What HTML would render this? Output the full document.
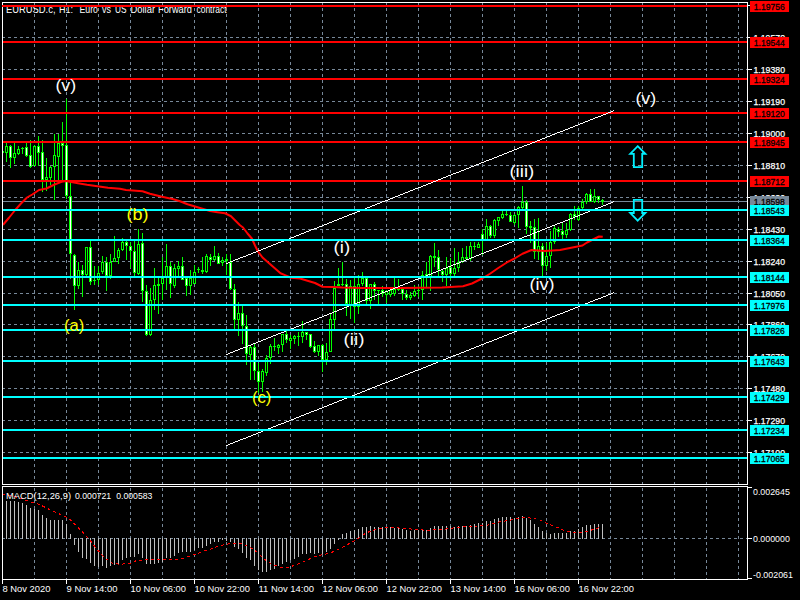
<!DOCTYPE html>
<html><head><meta charset="utf-8"><title>EURUSD.c H1</title>
<style>html,body{margin:0;padding:0;background:#000;overflow:hidden}svg text{font-family:"Liberation Sans",sans-serif}</style></head>
<body>
<svg width="800" height="600" viewBox="0 0 800 600" style="display:block">
<rect x="0" y="0" width="800" height="600" fill="#000"/>
<g stroke="#778899" stroke-width="1" stroke-dasharray="3 3" shape-rendering="crispEdges" fill="none">
<line x1="34.5" y1="2" x2="34.5" y2="484"/>
<line x1="34.5" y1="488" x2="34.5" y2="579"/>
<line x1="66.5" y1="2" x2="66.5" y2="484"/>
<line x1="66.5" y1="488" x2="66.5" y2="579"/>
<line x1="98.5" y1="2" x2="98.5" y2="484"/>
<line x1="98.5" y1="488" x2="98.5" y2="579"/>
<line x1="130.5" y1="2" x2="130.5" y2="484"/>
<line x1="130.5" y1="488" x2="130.5" y2="579"/>
<line x1="162.5" y1="2" x2="162.5" y2="484"/>
<line x1="162.5" y1="488" x2="162.5" y2="579"/>
<line x1="194.5" y1="2" x2="194.5" y2="484"/>
<line x1="194.5" y1="488" x2="194.5" y2="579"/>
<line x1="226.5" y1="2" x2="226.5" y2="484"/>
<line x1="226.5" y1="488" x2="226.5" y2="579"/>
<line x1="258.5" y1="2" x2="258.5" y2="484"/>
<line x1="258.5" y1="488" x2="258.5" y2="579"/>
<line x1="290.5" y1="2" x2="290.5" y2="484"/>
<line x1="290.5" y1="488" x2="290.5" y2="579"/>
<line x1="322.5" y1="2" x2="322.5" y2="484"/>
<line x1="322.5" y1="488" x2="322.5" y2="579"/>
<line x1="354.5" y1="2" x2="354.5" y2="484"/>
<line x1="354.5" y1="488" x2="354.5" y2="579"/>
<line x1="386.5" y1="2" x2="386.5" y2="484"/>
<line x1="386.5" y1="488" x2="386.5" y2="579"/>
<line x1="418.5" y1="2" x2="418.5" y2="484"/>
<line x1="418.5" y1="488" x2="418.5" y2="579"/>
<line x1="450.5" y1="2" x2="450.5" y2="484"/>
<line x1="450.5" y1="488" x2="450.5" y2="579"/>
<line x1="482.5" y1="2" x2="482.5" y2="484"/>
<line x1="482.5" y1="488" x2="482.5" y2="579"/>
<line x1="514.5" y1="2" x2="514.5" y2="484"/>
<line x1="514.5" y1="488" x2="514.5" y2="579"/>
<line x1="546.5" y1="2" x2="546.5" y2="484"/>
<line x1="546.5" y1="488" x2="546.5" y2="579"/>
<line x1="578.5" y1="2" x2="578.5" y2="484"/>
<line x1="578.5" y1="488" x2="578.5" y2="579"/>
<line x1="610.5" y1="2" x2="610.5" y2="484"/>
<line x1="610.5" y1="488" x2="610.5" y2="579"/>
<line x1="642.5" y1="2" x2="642.5" y2="484"/>
<line x1="642.5" y1="488" x2="642.5" y2="579"/>
<line x1="674.5" y1="2" x2="674.5" y2="484"/>
<line x1="674.5" y1="488" x2="674.5" y2="579"/>
<line x1="706.5" y1="2" x2="706.5" y2="484"/>
<line x1="706.5" y1="488" x2="706.5" y2="579"/>
<line x1="738.5" y1="2" x2="738.5" y2="484"/>
<line x1="738.5" y1="488" x2="738.5" y2="579"/>
<line x1="2" y1="37.5" x2="747" y2="37.5"/>
<line x1="2" y1="69.5" x2="747" y2="69.5"/>
<line x1="2" y1="101.5" x2="747" y2="101.5"/>
<line x1="2" y1="133.5" x2="747" y2="133.5"/>
<line x1="2" y1="165.5" x2="747" y2="165.5"/>
<line x1="2" y1="197.5" x2="747" y2="197.5"/>
<line x1="2" y1="229.5" x2="747" y2="229.5"/>
<line x1="2" y1="261.5" x2="747" y2="261.5"/>
<line x1="2" y1="293.5" x2="747" y2="293.5"/>
<line x1="2" y1="324.5" x2="747" y2="324.5"/>
<line x1="2" y1="356.5" x2="747" y2="356.5"/>
<line x1="2" y1="388.5" x2="747" y2="388.5"/>
<line x1="2" y1="420.5" x2="747" y2="420.5"/>
<line x1="2" y1="452.5" x2="747" y2="452.5"/>
<line x1="2" y1="538.5" x2="747" y2="538.5"/>
</g>
<rect x="2" y="201" width="746" height="1" fill="#778899" shape-rendering="crispEdges"/>
<g shape-rendering="crispEdges">
<rect x="6" y="143" width="1" height="19" fill="#00ff00"/>
<rect x="5" y="146" width="3" height="7" fill="#00ff00"/>
<rect x="6" y="147" width="1" height="5" fill="#000"/>
<rect x="10" y="145" width="1" height="23" fill="#00ff00"/>
<rect x="9" y="146" width="3" height="12" fill="#00ff00"/>
<rect x="10" y="147" width="1" height="10" fill="#fff"/>
<rect x="14" y="142" width="1" height="22" fill="#00ff00"/>
<rect x="13" y="153" width="3" height="5" fill="#00ff00"/>
<rect x="14" y="154" width="1" height="3" fill="#000"/>
<rect x="18" y="146" width="1" height="9" fill="#00ff00"/>
<rect x="17" y="149" width="3" height="5" fill="#00ff00"/>
<rect x="18" y="150" width="1" height="3" fill="#000"/>
<rect x="22" y="147" width="1" height="7" fill="#00ff00"/>
<rect x="21" y="148" width="3" height="1" fill="#00ff00"/>
<rect x="26" y="143" width="1" height="14" fill="#00ff00"/>
<rect x="25" y="147" width="3" height="9" fill="#00ff00"/>
<rect x="26" y="148" width="1" height="7" fill="#fff"/>
<rect x="30" y="140" width="1" height="28" fill="#00ff00"/>
<rect x="29" y="155" width="3" height="12" fill="#00ff00"/>
<rect x="30" y="156" width="1" height="10" fill="#fff"/>
<rect x="34" y="145" width="1" height="21" fill="#00ff00"/>
<rect x="33" y="146" width="3" height="20" fill="#00ff00"/>
<rect x="34" y="147" width="1" height="18" fill="#000"/>
<rect x="38" y="136" width="1" height="30" fill="#00ff00"/>
<rect x="37" y="146" width="3" height="7" fill="#00ff00"/>
<rect x="38" y="147" width="1" height="5" fill="#fff"/>
<rect x="42" y="140" width="1" height="52" fill="#00ff00"/>
<rect x="41" y="152" width="3" height="28" fill="#00ff00"/>
<rect x="42" y="153" width="1" height="26" fill="#fff"/>
<rect x="46" y="158" width="1" height="33" fill="#00ff00"/>
<rect x="45" y="177" width="3" height="3" fill="#00ff00"/>
<rect x="46" y="178" width="1" height="1" fill="#000"/>
<rect x="50" y="166" width="1" height="19" fill="#00ff00"/>
<rect x="49" y="167" width="3" height="11" fill="#00ff00"/>
<rect x="50" y="168" width="1" height="9" fill="#000"/>
<rect x="54" y="134" width="1" height="66" fill="#00ff00"/>
<rect x="53" y="155" width="3" height="12" fill="#00ff00"/>
<rect x="54" y="156" width="1" height="10" fill="#000"/>
<rect x="58" y="134" width="1" height="47" fill="#00ff00"/>
<rect x="57" y="143" width="3" height="14" fill="#00ff00"/>
<rect x="58" y="144" width="1" height="12" fill="#000"/>
<rect x="62" y="122" width="1" height="60" fill="#00ff00"/>
<rect x="61" y="143" width="3" height="3" fill="#00ff00"/>
<rect x="62" y="144" width="1" height="1" fill="#fff"/>
<rect x="66" y="99" width="1" height="100" fill="#00ff00"/>
<rect x="65" y="145" width="3" height="51" fill="#00ff00"/>
<rect x="66" y="146" width="1" height="49" fill="#fff"/>
<rect x="70" y="182" width="1" height="97" fill="#00ff00"/>
<rect x="69" y="196" width="3" height="58" fill="#00ff00"/>
<rect x="70" y="197" width="1" height="56" fill="#fff"/>
<rect x="74" y="254" width="1" height="56" fill="#00ff00"/>
<rect x="73" y="255" width="3" height="31" fill="#00ff00"/>
<rect x="74" y="256" width="1" height="29" fill="#fff"/>
<rect x="78" y="262" width="1" height="27" fill="#00ff00"/>
<rect x="77" y="270" width="3" height="16" fill="#00ff00"/>
<rect x="78" y="271" width="1" height="14" fill="#000"/>
<rect x="82" y="265" width="1" height="32" fill="#00ff00"/>
<rect x="81" y="270" width="3" height="5" fill="#00ff00"/>
<rect x="82" y="271" width="1" height="3" fill="#fff"/>
<rect x="86" y="247" width="1" height="29" fill="#00ff00"/>
<rect x="85" y="247" width="3" height="28" fill="#00ff00"/>
<rect x="86" y="248" width="1" height="26" fill="#000"/>
<rect x="90" y="241" width="1" height="44" fill="#00ff00"/>
<rect x="89" y="247" width="3" height="35" fill="#00ff00"/>
<rect x="90" y="248" width="1" height="33" fill="#fff"/>
<rect x="94" y="266" width="1" height="19" fill="#00ff00"/>
<rect x="93" y="280" width="3" height="1" fill="#00ff00"/>
<rect x="98" y="266" width="1" height="19" fill="#00ff00"/>
<rect x="97" y="273" width="3" height="7" fill="#00ff00"/>
<rect x="98" y="274" width="1" height="5" fill="#000"/>
<rect x="102" y="256" width="1" height="18" fill="#00ff00"/>
<rect x="101" y="262" width="3" height="10" fill="#00ff00"/>
<rect x="102" y="263" width="1" height="8" fill="#000"/>
<rect x="106" y="257" width="1" height="34" fill="#00ff00"/>
<rect x="105" y="262" width="3" height="14" fill="#00ff00"/>
<rect x="106" y="263" width="1" height="12" fill="#fff"/>
<rect x="110" y="254" width="1" height="25" fill="#00ff00"/>
<rect x="109" y="262" width="3" height="14" fill="#00ff00"/>
<rect x="110" y="263" width="1" height="12" fill="#000"/>
<rect x="114" y="236" width="1" height="26" fill="#00ff00"/>
<rect x="113" y="258" width="3" height="4" fill="#00ff00"/>
<rect x="114" y="259" width="1" height="2" fill="#000"/>
<rect x="118" y="248" width="1" height="16" fill="#00ff00"/>
<rect x="117" y="250" width="3" height="8" fill="#00ff00"/>
<rect x="118" y="251" width="1" height="6" fill="#000"/>
<rect x="122" y="238" width="1" height="13" fill="#00ff00"/>
<rect x="121" y="242" width="3" height="8" fill="#00ff00"/>
<rect x="122" y="243" width="1" height="6" fill="#000"/>
<rect x="126" y="241" width="1" height="19" fill="#00ff00"/>
<rect x="125" y="242" width="3" height="4" fill="#00ff00"/>
<rect x="126" y="243" width="1" height="2" fill="#fff"/>
<rect x="130" y="242" width="1" height="26" fill="#00ff00"/>
<rect x="129" y="246" width="3" height="5" fill="#00ff00"/>
<rect x="130" y="247" width="1" height="3" fill="#fff"/>
<rect x="134" y="241" width="1" height="37" fill="#00ff00"/>
<rect x="133" y="251" width="3" height="22" fill="#00ff00"/>
<rect x="134" y="252" width="1" height="20" fill="#fff"/>
<rect x="138" y="229" width="1" height="46" fill="#00ff00"/>
<rect x="137" y="244" width="3" height="30" fill="#00ff00"/>
<rect x="138" y="245" width="1" height="28" fill="#000"/>
<rect x="142" y="233" width="1" height="69" fill="#00ff00"/>
<rect x="141" y="243" width="3" height="48" fill="#00ff00"/>
<rect x="142" y="244" width="1" height="46" fill="#fff"/>
<rect x="146" y="285" width="1" height="51" fill="#00ff00"/>
<rect x="145" y="291" width="3" height="44" fill="#00ff00"/>
<rect x="146" y="292" width="1" height="42" fill="#fff"/>
<rect x="150" y="288" width="1" height="48" fill="#00ff00"/>
<rect x="149" y="300" width="3" height="35" fill="#00ff00"/>
<rect x="150" y="301" width="1" height="33" fill="#000"/>
<rect x="154" y="268" width="1" height="42" fill="#00ff00"/>
<rect x="153" y="285" width="3" height="15" fill="#00ff00"/>
<rect x="154" y="286" width="1" height="13" fill="#000"/>
<rect x="158" y="278" width="1" height="36" fill="#00ff00"/>
<rect x="157" y="284" width="3" height="2" fill="#00ff00"/>
<rect x="162" y="257" width="1" height="43" fill="#00ff00"/>
<rect x="161" y="278" width="3" height="6" fill="#00ff00"/>
<rect x="162" y="279" width="1" height="4" fill="#000"/>
<rect x="166" y="244" width="1" height="46" fill="#00ff00"/>
<rect x="165" y="266" width="3" height="12" fill="#00ff00"/>
<rect x="166" y="267" width="1" height="10" fill="#000"/>
<rect x="170" y="262" width="1" height="36" fill="#00ff00"/>
<rect x="169" y="266" width="3" height="18" fill="#00ff00"/>
<rect x="170" y="267" width="1" height="16" fill="#fff"/>
<rect x="174" y="264" width="1" height="24" fill="#00ff00"/>
<rect x="173" y="268" width="3" height="18" fill="#00ff00"/>
<rect x="174" y="269" width="1" height="16" fill="#000"/>
<rect x="178" y="261" width="1" height="15" fill="#00ff00"/>
<rect x="177" y="266" width="3" height="3" fill="#00ff00"/>
<rect x="178" y="267" width="1" height="1" fill="#000"/>
<rect x="182" y="257" width="1" height="23" fill="#00ff00"/>
<rect x="181" y="266" width="3" height="14" fill="#00ff00"/>
<rect x="182" y="267" width="1" height="12" fill="#fff"/>
<rect x="186" y="276" width="1" height="20" fill="#00ff00"/>
<rect x="185" y="278" width="3" height="8" fill="#00ff00"/>
<rect x="186" y="279" width="1" height="6" fill="#fff"/>
<rect x="190" y="270" width="1" height="25" fill="#00ff00"/>
<rect x="189" y="278" width="3" height="8" fill="#00ff00"/>
<rect x="190" y="279" width="1" height="6" fill="#000"/>
<rect x="194" y="265" width="1" height="19" fill="#00ff00"/>
<rect x="193" y="272" width="3" height="12" fill="#00ff00"/>
<rect x="194" y="273" width="1" height="10" fill="#000"/>
<rect x="198" y="267" width="1" height="6" fill="#00ff00"/>
<rect x="197" y="269" width="3" height="1" fill="#00ff00"/>
<rect x="202" y="257" width="1" height="17" fill="#00ff00"/>
<rect x="201" y="270" width="3" height="2" fill="#00ff00"/>
<rect x="206" y="254" width="1" height="19" fill="#00ff00"/>
<rect x="205" y="256" width="3" height="16" fill="#00ff00"/>
<rect x="206" y="257" width="1" height="14" fill="#000"/>
<rect x="210" y="254" width="1" height="12" fill="#00ff00"/>
<rect x="209" y="257" width="3" height="3" fill="#00ff00"/>
<rect x="210" y="258" width="1" height="1" fill="#fff"/>
<rect x="214" y="246" width="1" height="15" fill="#00ff00"/>
<rect x="213" y="256" width="3" height="4" fill="#00ff00"/>
<rect x="214" y="257" width="1" height="2" fill="#000"/>
<rect x="218" y="253" width="1" height="11" fill="#00ff00"/>
<rect x="217" y="256" width="3" height="8" fill="#00ff00"/>
<rect x="218" y="257" width="1" height="6" fill="#fff"/>
<rect x="222" y="257" width="1" height="9" fill="#00ff00"/>
<rect x="221" y="260" width="3" height="3" fill="#00ff00"/>
<rect x="222" y="261" width="1" height="1" fill="#000"/>
<rect x="226" y="254" width="1" height="21" fill="#00ff00"/>
<rect x="225" y="259" width="3" height="2" fill="#00ff00"/>
<rect x="230" y="254" width="1" height="36" fill="#00ff00"/>
<rect x="229" y="262" width="3" height="27" fill="#00ff00"/>
<rect x="230" y="263" width="1" height="25" fill="#fff"/>
<rect x="234" y="284" width="1" height="46" fill="#00ff00"/>
<rect x="233" y="289" width="3" height="31" fill="#00ff00"/>
<rect x="234" y="290" width="1" height="29" fill="#fff"/>
<rect x="238" y="302" width="1" height="34" fill="#00ff00"/>
<rect x="237" y="313" width="3" height="7" fill="#00ff00"/>
<rect x="238" y="314" width="1" height="5" fill="#000"/>
<rect x="242" y="306" width="1" height="38" fill="#00ff00"/>
<rect x="241" y="313" width="3" height="13" fill="#00ff00"/>
<rect x="242" y="314" width="1" height="11" fill="#fff"/>
<rect x="246" y="315" width="1" height="50" fill="#00ff00"/>
<rect x="245" y="326" width="3" height="28" fill="#00ff00"/>
<rect x="246" y="327" width="1" height="26" fill="#fff"/>
<rect x="250" y="346" width="1" height="34" fill="#00ff00"/>
<rect x="249" y="347" width="3" height="8" fill="#00ff00"/>
<rect x="250" y="348" width="1" height="6" fill="#000"/>
<rect x="254" y="344" width="1" height="36" fill="#00ff00"/>
<rect x="253" y="347" width="3" height="24" fill="#00ff00"/>
<rect x="254" y="348" width="1" height="22" fill="#fff"/>
<rect x="258" y="363" width="1" height="30" fill="#00ff00"/>
<rect x="257" y="371" width="3" height="11" fill="#00ff00"/>
<rect x="258" y="372" width="1" height="9" fill="#fff"/>
<rect x="262" y="369" width="1" height="23" fill="#00ff00"/>
<rect x="261" y="371" width="3" height="11" fill="#00ff00"/>
<rect x="262" y="372" width="1" height="9" fill="#000"/>
<rect x="266" y="355" width="1" height="21" fill="#00ff00"/>
<rect x="265" y="358" width="3" height="15" fill="#00ff00"/>
<rect x="266" y="359" width="1" height="13" fill="#000"/>
<rect x="270" y="344" width="1" height="20" fill="#00ff00"/>
<rect x="269" y="346" width="3" height="12" fill="#00ff00"/>
<rect x="270" y="347" width="1" height="10" fill="#000"/>
<rect x="274" y="338" width="1" height="13" fill="#00ff00"/>
<rect x="273" y="346" width="3" height="1" fill="#00ff00"/>
<rect x="278" y="344" width="1" height="10" fill="#00ff00"/>
<rect x="277" y="345" width="3" height="3" fill="#00ff00"/>
<rect x="278" y="346" width="1" height="1" fill="#000"/>
<rect x="282" y="334" width="1" height="18" fill="#00ff00"/>
<rect x="281" y="334" width="3" height="11" fill="#00ff00"/>
<rect x="282" y="335" width="1" height="9" fill="#000"/>
<rect x="286" y="331" width="1" height="12" fill="#00ff00"/>
<rect x="285" y="334" width="3" height="6" fill="#00ff00"/>
<rect x="286" y="335" width="1" height="4" fill="#fff"/>
<rect x="290" y="335" width="1" height="14" fill="#00ff00"/>
<rect x="289" y="338" width="3" height="3" fill="#00ff00"/>
<rect x="290" y="339" width="1" height="1" fill="#000"/>
<rect x="294" y="335" width="1" height="9" fill="#00ff00"/>
<rect x="293" y="336" width="3" height="3" fill="#00ff00"/>
<rect x="294" y="337" width="1" height="1" fill="#000"/>
<rect x="298" y="332" width="1" height="14" fill="#00ff00"/>
<rect x="297" y="336" width="3" height="1" fill="#00ff00"/>
<rect x="302" y="321" width="1" height="22" fill="#00ff00"/>
<rect x="301" y="332" width="3" height="5" fill="#00ff00"/>
<rect x="302" y="333" width="1" height="3" fill="#000"/>
<rect x="306" y="332" width="1" height="8" fill="#00ff00"/>
<rect x="305" y="332" width="3" height="3" fill="#00ff00"/>
<rect x="306" y="333" width="1" height="1" fill="#fff"/>
<rect x="310" y="334" width="1" height="14" fill="#00ff00"/>
<rect x="309" y="334" width="3" height="13" fill="#00ff00"/>
<rect x="310" y="335" width="1" height="11" fill="#fff"/>
<rect x="314" y="341" width="1" height="12" fill="#00ff00"/>
<rect x="313" y="346" width="3" height="6" fill="#00ff00"/>
<rect x="314" y="347" width="1" height="4" fill="#fff"/>
<rect x="318" y="345" width="1" height="11" fill="#00ff00"/>
<rect x="317" y="345" width="3" height="7" fill="#00ff00"/>
<rect x="318" y="346" width="1" height="5" fill="#000"/>
<rect x="322" y="344" width="1" height="28" fill="#00ff00"/>
<rect x="321" y="345" width="3" height="15" fill="#00ff00"/>
<rect x="322" y="346" width="1" height="13" fill="#fff"/>
<rect x="326" y="343" width="1" height="22" fill="#00ff00"/>
<rect x="325" y="352" width="3" height="8" fill="#00ff00"/>
<rect x="326" y="353" width="1" height="6" fill="#000"/>
<rect x="330" y="314" width="1" height="38" fill="#00ff00"/>
<rect x="329" y="319" width="3" height="33" fill="#00ff00"/>
<rect x="330" y="320" width="1" height="31" fill="#000"/>
<rect x="334" y="281" width="1" height="48" fill="#00ff00"/>
<rect x="333" y="288" width="3" height="32" fill="#00ff00"/>
<rect x="334" y="289" width="1" height="30" fill="#000"/>
<rect x="338" y="268" width="1" height="18" fill="#00ff00"/>
<rect x="337" y="284" width="3" height="2" fill="#00ff00"/>
<rect x="342" y="262" width="1" height="24" fill="#00ff00"/>
<rect x="341" y="284" width="3" height="1" fill="#00ff00"/>
<rect x="346" y="279" width="1" height="37" fill="#00ff00"/>
<rect x="345" y="284" width="3" height="20" fill="#00ff00"/>
<rect x="346" y="285" width="1" height="18" fill="#fff"/>
<rect x="350" y="280" width="1" height="39" fill="#00ff00"/>
<rect x="349" y="286" width="3" height="19" fill="#00ff00"/>
<rect x="350" y="287" width="1" height="17" fill="#000"/>
<rect x="354" y="278" width="1" height="45" fill="#00ff00"/>
<rect x="353" y="286" width="3" height="21" fill="#00ff00"/>
<rect x="354" y="287" width="1" height="19" fill="#fff"/>
<rect x="358" y="275" width="1" height="39" fill="#00ff00"/>
<rect x="357" y="284" width="3" height="23" fill="#00ff00"/>
<rect x="358" y="285" width="1" height="21" fill="#000"/>
<rect x="362" y="272" width="1" height="14" fill="#00ff00"/>
<rect x="361" y="278" width="3" height="6" fill="#00ff00"/>
<rect x="362" y="279" width="1" height="4" fill="#000"/>
<rect x="366" y="278" width="1" height="26" fill="#00ff00"/>
<rect x="365" y="278" width="3" height="23" fill="#00ff00"/>
<rect x="366" y="279" width="1" height="21" fill="#fff"/>
<rect x="370" y="284" width="1" height="25" fill="#00ff00"/>
<rect x="369" y="284" width="3" height="17" fill="#00ff00"/>
<rect x="370" y="285" width="1" height="15" fill="#000"/>
<rect x="374" y="282" width="1" height="18" fill="#00ff00"/>
<rect x="373" y="284" width="3" height="7" fill="#00ff00"/>
<rect x="374" y="285" width="1" height="5" fill="#fff"/>
<rect x="378" y="290" width="1" height="14" fill="#00ff00"/>
<rect x="377" y="290" width="3" height="1" fill="#00ff00"/>
<rect x="382" y="286" width="1" height="11" fill="#00ff00"/>
<rect x="381" y="290" width="3" height="4" fill="#00ff00"/>
<rect x="382" y="291" width="1" height="2" fill="#fff"/>
<rect x="386" y="290" width="1" height="13" fill="#00ff00"/>
<rect x="385" y="291" width="3" height="4" fill="#00ff00"/>
<rect x="386" y="292" width="1" height="2" fill="#000"/>
<rect x="390" y="290" width="1" height="7" fill="#00ff00"/>
<rect x="389" y="290" width="3" height="5" fill="#00ff00"/>
<rect x="390" y="291" width="1" height="3" fill="#000"/>
<rect x="394" y="278" width="1" height="18" fill="#00ff00"/>
<rect x="393" y="289" width="3" height="5" fill="#00ff00"/>
<rect x="394" y="290" width="1" height="3" fill="#000"/>
<rect x="398" y="279" width="1" height="12" fill="#00ff00"/>
<rect x="397" y="289" width="3" height="1" fill="#00ff00"/>
<rect x="402" y="287" width="1" height="13" fill="#00ff00"/>
<rect x="401" y="289" width="3" height="5" fill="#00ff00"/>
<rect x="402" y="290" width="1" height="3" fill="#fff"/>
<rect x="406" y="290" width="1" height="10" fill="#00ff00"/>
<rect x="405" y="294" width="3" height="4" fill="#00ff00"/>
<rect x="406" y="295" width="1" height="2" fill="#fff"/>
<rect x="410" y="292" width="1" height="8" fill="#00ff00"/>
<rect x="409" y="295" width="3" height="3" fill="#00ff00"/>
<rect x="410" y="296" width="1" height="1" fill="#000"/>
<rect x="414" y="285" width="1" height="12" fill="#00ff00"/>
<rect x="413" y="291" width="3" height="5" fill="#00ff00"/>
<rect x="414" y="292" width="1" height="3" fill="#000"/>
<rect x="418" y="286" width="1" height="11" fill="#00ff00"/>
<rect x="417" y="290" width="3" height="1" fill="#00ff00"/>
<rect x="422" y="271" width="1" height="29" fill="#00ff00"/>
<rect x="421" y="275" width="3" height="15" fill="#00ff00"/>
<rect x="422" y="276" width="1" height="13" fill="#000"/>
<rect x="426" y="262" width="1" height="26" fill="#00ff00"/>
<rect x="425" y="274" width="3" height="4" fill="#00ff00"/>
<rect x="426" y="275" width="1" height="2" fill="#000"/>
<rect x="430" y="255" width="1" height="36" fill="#00ff00"/>
<rect x="429" y="256" width="3" height="22" fill="#00ff00"/>
<rect x="430" y="257" width="1" height="20" fill="#000"/>
<rect x="434" y="243" width="1" height="24" fill="#00ff00"/>
<rect x="433" y="256" width="3" height="2" fill="#00ff00"/>
<rect x="438" y="250" width="1" height="26" fill="#00ff00"/>
<rect x="437" y="257" width="3" height="13" fill="#00ff00"/>
<rect x="438" y="258" width="1" height="11" fill="#fff"/>
<rect x="442" y="270" width="1" height="12" fill="#00ff00"/>
<rect x="441" y="271" width="3" height="4" fill="#00ff00"/>
<rect x="442" y="272" width="1" height="2" fill="#fff"/>
<rect x="446" y="257" width="1" height="29" fill="#00ff00"/>
<rect x="445" y="268" width="3" height="7" fill="#00ff00"/>
<rect x="446" y="269" width="1" height="5" fill="#000"/>
<rect x="450" y="258" width="1" height="22" fill="#00ff00"/>
<rect x="449" y="267" width="3" height="7" fill="#00ff00"/>
<rect x="450" y="268" width="1" height="5" fill="#fff"/>
<rect x="454" y="248" width="1" height="28" fill="#00ff00"/>
<rect x="453" y="268" width="3" height="6" fill="#00ff00"/>
<rect x="454" y="269" width="1" height="4" fill="#000"/>
<rect x="458" y="252" width="1" height="20" fill="#00ff00"/>
<rect x="457" y="262" width="3" height="6" fill="#00ff00"/>
<rect x="458" y="263" width="1" height="4" fill="#000"/>
<rect x="462" y="248" width="1" height="15" fill="#00ff00"/>
<rect x="461" y="257" width="3" height="5" fill="#00ff00"/>
<rect x="462" y="258" width="1" height="3" fill="#000"/>
<rect x="466" y="246" width="1" height="14" fill="#00ff00"/>
<rect x="465" y="257" width="3" height="2" fill="#00ff00"/>
<rect x="470" y="242" width="1" height="19" fill="#00ff00"/>
<rect x="469" y="246" width="3" height="13" fill="#00ff00"/>
<rect x="470" y="247" width="1" height="11" fill="#000"/>
<rect x="474" y="242" width="1" height="8" fill="#00ff00"/>
<rect x="473" y="246" width="3" height="1" fill="#00ff00"/>
<rect x="478" y="242" width="1" height="6" fill="#00ff00"/>
<rect x="477" y="244" width="3" height="4" fill="#00ff00"/>
<rect x="478" y="245" width="1" height="2" fill="#000"/>
<rect x="482" y="229" width="1" height="26" fill="#00ff00"/>
<rect x="481" y="234" width="3" height="6" fill="#00ff00"/>
<rect x="482" y="235" width="1" height="4" fill="#fff"/>
<rect x="486" y="219" width="1" height="21" fill="#00ff00"/>
<rect x="485" y="226" width="3" height="14" fill="#00ff00"/>
<rect x="486" y="227" width="1" height="12" fill="#000"/>
<rect x="490" y="225" width="1" height="13" fill="#00ff00"/>
<rect x="489" y="226" width="3" height="10" fill="#00ff00"/>
<rect x="490" y="227" width="1" height="8" fill="#fff"/>
<rect x="494" y="219" width="1" height="19" fill="#00ff00"/>
<rect x="493" y="220" width="3" height="16" fill="#00ff00"/>
<rect x="494" y="221" width="1" height="14" fill="#000"/>
<rect x="498" y="217" width="1" height="9" fill="#00ff00"/>
<rect x="497" y="217" width="3" height="4" fill="#00ff00"/>
<rect x="498" y="218" width="1" height="2" fill="#000"/>
<rect x="502" y="211" width="1" height="8" fill="#00ff00"/>
<rect x="501" y="214" width="3" height="4" fill="#00ff00"/>
<rect x="502" y="215" width="1" height="2" fill="#000"/>
<rect x="506" y="211" width="1" height="5" fill="#00ff00"/>
<rect x="505" y="214" width="3" height="1" fill="#00ff00"/>
<rect x="510" y="212" width="1" height="10" fill="#00ff00"/>
<rect x="509" y="215" width="3" height="7" fill="#00ff00"/>
<rect x="510" y="216" width="1" height="5" fill="#fff"/>
<rect x="514" y="214" width="1" height="11" fill="#00ff00"/>
<rect x="513" y="215" width="3" height="8" fill="#00ff00"/>
<rect x="514" y="216" width="1" height="6" fill="#000"/>
<rect x="518" y="206" width="1" height="22" fill="#00ff00"/>
<rect x="517" y="207" width="3" height="8" fill="#00ff00"/>
<rect x="518" y="208" width="1" height="6" fill="#000"/>
<rect x="522" y="186" width="1" height="25" fill="#00ff00"/>
<rect x="521" y="202" width="3" height="6" fill="#00ff00"/>
<rect x="522" y="203" width="1" height="4" fill="#000"/>
<rect x="526" y="200" width="1" height="34" fill="#00ff00"/>
<rect x="525" y="202" width="3" height="25" fill="#00ff00"/>
<rect x="526" y="203" width="1" height="23" fill="#fff"/>
<rect x="530" y="221" width="1" height="22" fill="#00ff00"/>
<rect x="529" y="226" width="3" height="2" fill="#00ff00"/>
<rect x="534" y="219" width="1" height="40" fill="#00ff00"/>
<rect x="533" y="227" width="3" height="25" fill="#00ff00"/>
<rect x="534" y="228" width="1" height="23" fill="#fff"/>
<rect x="538" y="218" width="1" height="42" fill="#00ff00"/>
<rect x="537" y="246" width="3" height="6" fill="#00ff00"/>
<rect x="538" y="247" width="1" height="4" fill="#000"/>
<rect x="542" y="243" width="1" height="33" fill="#00ff00"/>
<rect x="541" y="246" width="3" height="20" fill="#00ff00"/>
<rect x="542" y="247" width="1" height="18" fill="#fff"/>
<rect x="546" y="243" width="1" height="28" fill="#00ff00"/>
<rect x="545" y="256" width="3" height="10" fill="#00ff00"/>
<rect x="546" y="257" width="1" height="8" fill="#000"/>
<rect x="550" y="231" width="1" height="37" fill="#00ff00"/>
<rect x="549" y="242" width="3" height="14" fill="#00ff00"/>
<rect x="550" y="243" width="1" height="12" fill="#000"/>
<rect x="554" y="226" width="1" height="18" fill="#00ff00"/>
<rect x="553" y="228" width="3" height="14" fill="#00ff00"/>
<rect x="554" y="229" width="1" height="12" fill="#000"/>
<rect x="558" y="227" width="1" height="10" fill="#00ff00"/>
<rect x="557" y="229" width="3" height="3" fill="#00ff00"/>
<rect x="558" y="230" width="1" height="1" fill="#fff"/>
<rect x="562" y="223" width="1" height="16" fill="#00ff00"/>
<rect x="561" y="231" width="3" height="4" fill="#00ff00"/>
<rect x="562" y="232" width="1" height="2" fill="#fff"/>
<rect x="566" y="223" width="1" height="15" fill="#00ff00"/>
<rect x="565" y="230" width="3" height="5" fill="#00ff00"/>
<rect x="566" y="231" width="1" height="3" fill="#000"/>
<rect x="570" y="213" width="1" height="18" fill="#00ff00"/>
<rect x="569" y="214" width="3" height="16" fill="#00ff00"/>
<rect x="570" y="215" width="1" height="14" fill="#000"/>
<rect x="574" y="206" width="1" height="14" fill="#00ff00"/>
<rect x="573" y="214" width="3" height="3" fill="#00ff00"/>
<rect x="574" y="215" width="1" height="1" fill="#fff"/>
<rect x="578" y="206" width="1" height="15" fill="#00ff00"/>
<rect x="577" y="208" width="3" height="12" fill="#00ff00"/>
<rect x="578" y="209" width="1" height="10" fill="#000"/>
<rect x="582" y="199" width="1" height="10" fill="#00ff00"/>
<rect x="581" y="202" width="3" height="6" fill="#00ff00"/>
<rect x="582" y="203" width="1" height="4" fill="#000"/>
<rect x="586" y="193" width="1" height="11" fill="#00ff00"/>
<rect x="585" y="194" width="3" height="8" fill="#00ff00"/>
<rect x="586" y="195" width="1" height="6" fill="#000"/>
<rect x="590" y="189" width="1" height="13" fill="#00ff00"/>
<rect x="589" y="194" width="3" height="8" fill="#00ff00"/>
<rect x="590" y="195" width="1" height="6" fill="#fff"/>
<rect x="594" y="189" width="1" height="14" fill="#00ff00"/>
<rect x="593" y="196" width="3" height="6" fill="#00ff00"/>
<rect x="594" y="197" width="1" height="4" fill="#000"/>
<rect x="598" y="196" width="1" height="7" fill="#00ff00"/>
<rect x="597" y="196" width="3" height="4" fill="#00ff00"/>
<rect x="598" y="197" width="1" height="2" fill="#fff"/>
<rect x="602" y="199" width="1" height="6" fill="#00ff00"/>
<rect x="601" y="200" width="3" height="2" fill="#00ff00"/>
<rect x="3" y="151" width="1" height="2" fill="#00ff00"/>
</g>
<g shape-rendering="crispEdges" fill="#c0c0c0">
<rect x="6" y="501" width="1" height="38"/>
<rect x="10" y="501" width="1" height="38"/>
<rect x="14" y="501" width="1" height="38"/>
<rect x="18" y="502" width="1" height="37"/>
<rect x="22" y="503" width="1" height="36"/>
<rect x="26" y="505" width="1" height="34"/>
<rect x="30" y="508" width="1" height="31"/>
<rect x="34" y="509" width="1" height="30"/>
<rect x="38" y="510" width="1" height="29"/>
<rect x="42" y="515" width="1" height="24"/>
<rect x="46" y="518" width="1" height="21"/>
<rect x="50" y="520" width="1" height="19"/>
<rect x="54" y="520" width="1" height="19"/>
<rect x="58" y="520" width="1" height="19"/>
<rect x="62" y="520" width="1" height="19"/>
<rect x="66" y="524" width="1" height="15"/>
<rect x="70" y="534" width="1" height="5"/>
<rect x="74" y="538" width="1" height="7"/>
<rect x="78" y="538" width="1" height="14"/>
<rect x="82" y="538" width="1" height="20"/>
<rect x="86" y="538" width="1" height="21"/>
<rect x="90" y="538" width="1" height="25"/>
<rect x="94" y="538" width="1" height="28"/>
<rect x="98" y="538" width="1" height="29"/>
<rect x="102" y="538" width="1" height="28"/>
<rect x="106" y="538" width="1" height="30"/>
<rect x="110" y="538" width="1" height="28"/>
<rect x="114" y="538" width="1" height="27"/>
<rect x="118" y="538" width="1" height="26"/>
<rect x="122" y="538" width="1" height="22"/>
<rect x="126" y="538" width="1" height="20"/>
<rect x="130" y="538" width="1" height="19"/>
<rect x="134" y="538" width="1" height="19"/>
<rect x="138" y="538" width="1" height="16"/>
<rect x="142" y="538" width="1" height="20"/>
<rect x="146" y="538" width="1" height="26"/>
<rect x="150" y="538" width="1" height="26"/>
<rect x="154" y="538" width="1" height="26"/>
<rect x="158" y="538" width="1" height="25"/>
<rect x="162" y="538" width="1" height="24"/>
<rect x="166" y="538" width="1" height="20"/>
<rect x="170" y="538" width="1" height="20"/>
<rect x="174" y="538" width="1" height="18"/>
<rect x="178" y="538" width="1" height="15"/>
<rect x="182" y="538" width="1" height="14"/>
<rect x="186" y="538" width="1" height="14"/>
<rect x="190" y="538" width="1" height="14"/>
<rect x="194" y="538" width="1" height="12"/>
<rect x="198" y="538" width="1" height="10"/>
<rect x="202" y="538" width="1" height="10"/>
<rect x="206" y="538" width="1" height="8"/>
<rect x="210" y="538" width="1" height="6"/>
<rect x="214" y="538" width="1" height="4"/>
<rect x="218" y="538" width="1" height="4"/>
<rect x="222" y="538" width="1" height="2"/>
<rect x="226" y="538" width="1" height="3"/>
<rect x="230" y="538" width="1" height="4"/>
<rect x="234" y="538" width="1" height="9"/>
<rect x="238" y="538" width="1" height="11"/>
<rect x="242" y="538" width="1" height="15"/>
<rect x="246" y="538" width="1" height="20"/>
<rect x="250" y="538" width="1" height="22"/>
<rect x="254" y="538" width="1" height="28"/>
<rect x="258" y="538" width="1" height="32"/>
<rect x="262" y="538" width="1" height="34"/>
<rect x="266" y="538" width="1" height="34"/>
<rect x="270" y="538" width="1" height="32"/>
<rect x="274" y="538" width="1" height="31"/>
<rect x="278" y="538" width="1" height="28"/>
<rect x="282" y="538" width="1" height="26"/>
<rect x="286" y="538" width="1" height="24"/>
<rect x="290" y="538" width="1" height="22"/>
<rect x="294" y="538" width="1" height="21"/>
<rect x="298" y="538" width="1" height="19"/>
<rect x="302" y="538" width="1" height="16"/>
<rect x="306" y="538" width="1" height="16"/>
<rect x="310" y="538" width="1" height="15"/>
<rect x="314" y="538" width="1" height="16"/>
<rect x="318" y="538" width="1" height="15"/>
<rect x="322" y="538" width="1" height="16"/>
<rect x="326" y="538" width="1" height="14"/>
<rect x="330" y="538" width="1" height="11"/>
<rect x="334" y="538" width="1" height="6"/>
<rect x="338" y="538" width="1" height="2"/>
<rect x="342" y="534" width="1" height="5"/>
<rect x="346" y="533" width="1" height="6"/>
<rect x="350" y="531" width="1" height="8"/>
<rect x="354" y="530" width="1" height="9"/>
<rect x="358" y="529" width="1" height="10"/>
<rect x="362" y="527" width="1" height="12"/>
<rect x="366" y="527" width="1" height="12"/>
<rect x="370" y="526" width="1" height="13"/>
<rect x="374" y="527" width="1" height="12"/>
<rect x="378" y="527" width="1" height="12"/>
<rect x="382" y="527" width="1" height="12"/>
<rect x="386" y="527" width="1" height="12"/>
<rect x="390" y="527" width="1" height="12"/>
<rect x="394" y="528" width="1" height="11"/>
<rect x="398" y="528" width="1" height="11"/>
<rect x="402" y="529" width="1" height="10"/>
<rect x="406" y="530" width="1" height="9"/>
<rect x="410" y="531" width="1" height="8"/>
<rect x="414" y="530" width="1" height="9"/>
<rect x="418" y="530" width="1" height="9"/>
<rect x="422" y="530" width="1" height="9"/>
<rect x="426" y="530" width="1" height="9"/>
<rect x="430" y="528" width="1" height="11"/>
<rect x="434" y="526" width="1" height="13"/>
<rect x="438" y="526" width="1" height="13"/>
<rect x="442" y="526" width="1" height="13"/>
<rect x="446" y="526" width="1" height="13"/>
<rect x="450" y="526" width="1" height="13"/>
<rect x="454" y="527" width="1" height="12"/>
<rect x="458" y="526" width="1" height="13"/>
<rect x="462" y="526" width="1" height="13"/>
<rect x="466" y="526" width="1" height="13"/>
<rect x="470" y="525" width="1" height="14"/>
<rect x="474" y="524" width="1" height="15"/>
<rect x="478" y="523" width="1" height="16"/>
<rect x="482" y="523" width="1" height="16"/>
<rect x="486" y="521" width="1" height="18"/>
<rect x="490" y="521" width="1" height="18"/>
<rect x="494" y="519" width="1" height="20"/>
<rect x="498" y="518" width="1" height="21"/>
<rect x="502" y="517" width="1" height="22"/>
<rect x="506" y="517" width="1" height="22"/>
<rect x="510" y="517" width="1" height="22"/>
<rect x="514" y="518" width="1" height="21"/>
<rect x="518" y="517" width="1" height="22"/>
<rect x="522" y="516" width="1" height="23"/>
<rect x="526" y="518" width="1" height="21"/>
<rect x="530" y="520" width="1" height="19"/>
<rect x="534" y="524" width="1" height="15"/>
<rect x="538" y="527" width="1" height="12"/>
<rect x="542" y="531" width="1" height="8"/>
<rect x="546" y="533" width="1" height="6"/>
<rect x="550" y="534" width="1" height="5"/>
<rect x="554" y="533" width="1" height="6"/>
<rect x="558" y="533" width="1" height="6"/>
<rect x="562" y="533" width="1" height="6"/>
<rect x="566" y="533" width="1" height="6"/>
<rect x="570" y="531" width="1" height="8"/>
<rect x="574" y="531" width="1" height="8"/>
<rect x="578" y="529" width="1" height="10"/>
<rect x="582" y="527" width="1" height="12"/>
<rect x="586" y="525" width="1" height="14"/>
<rect x="590" y="525" width="1" height="14"/>
<rect x="594" y="524" width="1" height="15"/>
<rect x="598" y="524" width="1" height="15"/>
<rect x="602" y="524" width="1" height="15"/>
</g>
<polyline points="2,494.5 10,495.5 20,498 28.5,501.25 39,504.25 51,510.25 64.5,516.25 70.5,520 81,530.5 90,540.25 97.5,550 105,558.25 112.5,563.2 120,564.25 130.5,563.5 136.5,560.5 150,559.5 169.5,559.5 174,560.2 180,559 186,557.5 192,555.25 198,553.3 204,550.75 210,549.25 216,547 222,545.2 228,544 234,543.25 240,543.4 246,545.5 251.25,548.2 258,552.7 263.25,558.25 269.25,562.75 275.25,565.5 281.25,567.25 288,567.5 293.25,565.75 299.25,563.5 305.25,561 311.25,558.25 317.25,555.7 323.25,554.5 329.25,553.5 335.25,550.75 342,547.5 347.25,544.75 353.25,541.3 360,537.5 365.25,533.5 371.25,530.8 377.25,529.3 383.25,528.25 389.25,527.5 395.25,527.5 401.25,528.25 408,528.7 414,529.3 420,529.6 426,530.5 431.25,530.2 437.25,529.3 443.25,529.3 449.25,528.7 455.25,527.5 462,526.75 468,526.5 474,526.5 480,525.5 486,525.5 491.4,524.1 497.5,522.4 503.6,521.15 509.75,520.3 515.9,518.9 522,518 527.25,517.65 533.4,518.35 539.5,519.75 545.6,522.7 551.75,525.5 557.9,527.6 564,530.6 570.1,532 575.4,532.9 581.5,532.35 587.6,531.1 593.75,529.4 600.75,527.3" fill="none" stroke="#ff0000" stroke-width="1" stroke-dasharray="3 3" shape-rendering="crispEdges"/>
<polyline points="3,225 3.3,224.5 9,217.75 15,210.25 21,203.5 27,197.5 32.25,194.5 39,190 46.5,188.5 54,184.75 61.5,181.75 66,181 78,183.25 87,184.75 97.5,186.25 108,187.75 120,188.8 126,190 142.5,191.2 150,193.75 162,196.75 172.5,199 180,201.25 187.5,204.25 195,206.5 202.5,208.75 210,211 217.5,212.2 225,213.25 231,216.25 235.5,220.75 240,225.25 243,227.5 247.5,233.5 252,238.75 255,245.5 258,251.5 262.5,257.5 268.5,262.75 274.5,268 280.5,273.25 285,275.2 291,277.75 300,278.5 307.5,280.75 315,283 322.5,286.75 333,287 342.5,287.5 360,288 400,288 442,287.5 463,286.2 472,283.5 482.5,278.25 490,273.75 497.5,268.5 508,261.75 515,258.25 522.5,253.75 531.5,250 545,251 560,250 567.5,248.5 582.5,245.5 587,242.5 594.5,238.75 599,236.5 602.75,236.8" fill="none" stroke="#ff0000" stroke-width="2" stroke-linejoin="round"/>
<g shape-rendering="crispEdges">
<rect x="2" y="5" width="745" height="2" fill="#ff0000"/>
<rect x="2" y="41" width="745" height="2" fill="#ff0000"/>
<rect x="2" y="78" width="745" height="2" fill="#ff0000"/>
<rect x="2" y="112" width="745" height="2" fill="#ff0000"/>
<rect x="2" y="141" width="745" height="2" fill="#ff0000"/>
<rect x="2" y="180" width="745" height="2" fill="#ff0000"/>
</g>
<path fill="#fff" shape-rendering="crispEdges" d="M226 263h2v1h-2zM228 262h2v1h-2zM230 261h3v1h-3zM233 260h2v1h-2zM235 259h3v1h-3zM238 258h2v1h-2zM240 257h3v1h-3zM243 256h3v1h-3zM246 255h2v1h-2zM248 254h3v1h-3zM251 253h2v1h-2zM253 252h3v1h-3zM256 251h2v1h-2zM258 250h3v1h-3zM261 249h2v1h-2zM263 248h3v1h-3zM266 247h2v1h-2zM268 246h3v1h-3zM271 245h2v1h-2zM273 244h3v1h-3zM276 243h2v1h-2zM278 242h3v1h-3zM281 241h3v1h-3zM284 240h2v1h-2zM286 239h3v1h-3zM289 238h2v1h-2zM291 237h3v1h-3zM294 236h2v1h-2zM296 235h3v1h-3zM299 234h2v1h-2zM301 233h3v1h-3zM304 232h2v1h-2zM306 231h3v1h-3zM309 230h2v1h-2zM311 229h3v1h-3zM314 228h3v1h-3zM317 227h2v1h-2zM319 226h3v1h-3zM322 225h2v1h-2zM324 224h3v1h-3zM327 223h2v1h-2zM329 222h3v1h-3zM332 221h2v1h-2zM334 220h3v1h-3zM337 219h2v1h-2zM339 218h3v1h-3zM342 217h2v1h-2zM344 216h3v1h-3zM347 215h2v1h-2zM349 214h3v1h-3zM352 213h3v1h-3zM355 212h2v1h-2zM357 211h3v1h-3zM360 210h2v1h-2zM362 209h3v1h-3zM365 208h2v1h-2zM367 207h3v1h-3zM370 206h2v1h-2zM372 205h3v1h-3zM375 204h2v1h-2zM377 203h3v1h-3zM380 202h2v1h-2zM382 201h3v1h-3zM385 200h3v1h-3zM388 199h2v1h-2zM390 198h3v1h-3zM393 197h2v1h-2zM395 196h3v1h-3zM398 195h2v1h-2zM400 194h3v1h-3zM403 193h2v1h-2zM405 192h3v1h-3zM408 191h2v1h-2zM410 190h3v1h-3zM413 189h2v1h-2zM415 188h3v1h-3zM418 187h3v1h-3zM421 186h2v1h-2zM423 185h3v1h-3zM426 184h2v1h-2zM428 183h3v1h-3zM431 182h2v1h-2zM433 181h3v1h-3zM436 180h2v1h-2zM438 179h3v1h-3zM441 178h2v1h-2zM443 177h3v1h-3zM446 176h2v1h-2zM448 175h3v1h-3zM451 174h2v1h-2zM453 173h3v1h-3zM456 172h3v1h-3zM459 171h2v1h-2zM461 170h3v1h-3zM464 169h2v1h-2zM466 168h3v1h-3zM469 167h2v1h-2zM471 166h3v1h-3zM474 165h2v1h-2zM476 164h3v1h-3zM479 163h2v1h-2zM481 162h3v1h-3zM484 161h2v1h-2zM486 160h3v1h-3zM489 159h3v1h-3zM492 158h2v1h-2zM494 157h3v1h-3zM497 156h2v1h-2zM499 155h3v1h-3zM502 154h2v1h-2zM504 153h3v1h-3zM507 152h2v1h-2zM509 151h3v1h-3zM512 150h2v1h-2zM514 149h3v1h-3zM517 148h2v1h-2zM519 147h3v1h-3zM522 146h2v1h-2zM524 145h3v1h-3zM527 144h3v1h-3zM530 143h2v1h-2zM532 142h3v1h-3zM535 141h2v1h-2zM537 140h3v1h-3zM540 139h2v1h-2zM542 138h3v1h-3zM545 137h2v1h-2zM547 136h3v1h-3zM550 135h2v1h-2zM552 134h3v1h-3zM555 133h2v1h-2zM557 132h3v1h-3zM560 131h3v1h-3zM563 130h2v1h-2zM565 129h3v1h-3zM568 128h2v1h-2zM570 127h3v1h-3zM573 126h2v1h-2zM575 125h3v1h-3zM578 124h2v1h-2zM580 123h3v1h-3zM583 122h2v1h-2zM585 121h3v1h-3zM588 120h2v1h-2zM590 119h3v1h-3zM593 118h2v1h-2zM595 117h3v1h-3zM598 116h3v1h-3zM601 115h2v1h-2zM603 114h3v1h-3zM606 113h2v1h-2zM608 112h3v1h-3zM611 111h2v1h-2zM613 110h1v1h-1z"/>
<path fill="#fff" shape-rendering="crispEdges" d="M226 354h2v1h-2zM228 353h2v1h-2zM230 352h3v1h-3zM233 351h2v1h-2zM235 350h3v1h-3zM238 349h2v1h-2zM240 348h3v1h-3zM243 347h3v1h-3zM246 346h2v1h-2zM248 345h3v1h-3zM251 344h2v1h-2zM253 343h3v1h-3zM256 342h2v1h-2zM258 341h3v1h-3zM261 340h2v1h-2zM263 339h3v1h-3zM266 338h2v1h-2zM268 337h3v1h-3zM271 336h2v1h-2zM273 335h3v1h-3zM276 334h2v1h-2zM278 333h3v1h-3zM281 332h3v1h-3zM284 331h2v1h-2zM286 330h3v1h-3zM289 329h2v1h-2zM291 328h3v1h-3zM294 327h2v1h-2zM296 326h3v1h-3zM299 325h2v1h-2zM301 324h3v1h-3zM304 323h2v1h-2zM306 322h3v1h-3zM309 321h2v1h-2zM311 320h3v1h-3zM314 319h3v1h-3zM317 318h2v1h-2zM319 317h3v1h-3zM322 316h2v1h-2zM324 315h3v1h-3zM327 314h2v1h-2zM329 313h3v1h-3zM332 312h2v1h-2zM334 311h3v1h-3zM337 310h2v1h-2zM339 309h3v1h-3zM342 308h2v1h-2zM344 307h3v1h-3zM347 306h2v1h-2zM349 305h3v1h-3zM352 304h3v1h-3zM355 303h2v1h-2zM357 302h3v1h-3zM360 301h2v1h-2zM362 300h3v1h-3zM365 299h2v1h-2zM367 298h3v1h-3zM370 297h2v1h-2zM372 296h3v1h-3zM375 295h2v1h-2zM377 294h3v1h-3zM380 293h2v1h-2zM382 292h3v1h-3zM385 291h3v1h-3zM388 290h2v1h-2zM390 289h3v1h-3zM393 288h2v1h-2zM395 287h3v1h-3zM398 286h2v1h-2zM400 285h3v1h-3zM403 284h2v1h-2zM405 283h3v1h-3zM408 282h2v1h-2zM410 281h3v1h-3zM413 280h2v1h-2zM415 279h3v1h-3zM418 278h3v1h-3zM421 277h2v1h-2zM423 276h3v1h-3zM426 275h2v1h-2zM428 274h3v1h-3zM431 273h2v1h-2zM433 272h3v1h-3zM436 271h2v1h-2zM438 270h3v1h-3zM441 269h2v1h-2zM443 268h3v1h-3zM446 267h2v1h-2zM448 266h3v1h-3zM451 265h2v1h-2zM453 264h3v1h-3zM456 263h3v1h-3zM459 262h2v1h-2zM461 261h3v1h-3zM464 260h2v1h-2zM466 259h3v1h-3zM469 258h2v1h-2zM471 257h3v1h-3zM474 256h2v1h-2zM476 255h3v1h-3zM479 254h2v1h-2zM481 253h3v1h-3zM484 252h2v1h-2zM486 251h3v1h-3zM489 250h3v1h-3zM492 249h2v1h-2zM494 248h3v1h-3zM497 247h2v1h-2zM499 246h3v1h-3zM502 245h2v1h-2zM504 244h3v1h-3zM507 243h2v1h-2zM509 242h3v1h-3zM512 241h2v1h-2zM514 240h3v1h-3zM517 239h2v1h-2zM519 238h3v1h-3zM522 237h2v1h-2zM524 236h3v1h-3zM527 235h3v1h-3zM530 234h2v1h-2zM532 233h3v1h-3zM535 232h2v1h-2zM537 231h3v1h-3zM540 230h2v1h-2zM542 229h3v1h-3zM545 228h2v1h-2zM547 227h3v1h-3zM550 226h2v1h-2zM552 225h3v1h-3zM555 224h2v1h-2zM557 223h3v1h-3zM560 222h3v1h-3zM563 221h2v1h-2zM565 220h3v1h-3zM568 219h2v1h-2zM570 218h3v1h-3zM573 217h2v1h-2zM575 216h3v1h-3zM578 215h2v1h-2zM580 214h3v1h-3zM583 213h2v1h-2zM585 212h3v1h-3zM588 211h2v1h-2zM590 210h3v1h-3zM593 209h2v1h-2zM595 208h3v1h-3zM598 207h3v1h-3zM601 206h2v1h-2zM603 205h3v1h-3zM606 204h2v1h-2zM608 203h3v1h-3zM611 202h2v1h-2zM613 201h1v1h-1z"/>
<path fill="#fff" shape-rendering="crispEdges" d="M226 445h2v1h-2zM228 444h2v1h-2zM230 443h3v1h-3zM233 442h2v1h-2zM235 441h3v1h-3zM238 440h2v1h-2zM240 439h3v1h-3zM243 438h3v1h-3zM246 437h2v1h-2zM248 436h3v1h-3zM251 435h2v1h-2zM253 434h3v1h-3zM256 433h2v1h-2zM258 432h3v1h-3zM261 431h2v1h-2zM263 430h3v1h-3zM266 429h2v1h-2zM268 428h3v1h-3zM271 427h2v1h-2zM273 426h3v1h-3zM276 425h2v1h-2zM278 424h3v1h-3zM281 423h3v1h-3zM284 422h2v1h-2zM286 421h3v1h-3zM289 420h2v1h-2zM291 419h3v1h-3zM294 418h2v1h-2zM296 417h3v1h-3zM299 416h2v1h-2zM301 415h3v1h-3zM304 414h2v1h-2zM306 413h3v1h-3zM309 412h2v1h-2zM311 411h3v1h-3zM314 410h3v1h-3zM317 409h2v1h-2zM319 408h3v1h-3zM322 407h2v1h-2zM324 406h3v1h-3zM327 405h2v1h-2zM329 404h3v1h-3zM332 403h2v1h-2zM334 402h3v1h-3zM337 401h2v1h-2zM339 400h3v1h-3zM342 399h2v1h-2zM344 398h3v1h-3zM347 397h2v1h-2zM349 396h3v1h-3zM352 395h3v1h-3zM355 394h2v1h-2zM357 393h3v1h-3zM360 392h2v1h-2zM362 391h3v1h-3zM365 390h2v1h-2zM367 389h3v1h-3zM370 388h2v1h-2zM372 387h3v1h-3zM375 386h2v1h-2zM377 385h3v1h-3zM380 384h2v1h-2zM382 383h3v1h-3zM385 382h3v1h-3zM388 381h2v1h-2zM390 380h3v1h-3zM393 379h2v1h-2zM395 378h3v1h-3zM398 377h2v1h-2zM400 376h3v1h-3zM403 375h2v1h-2zM405 374h3v1h-3zM408 373h2v1h-2zM410 372h3v1h-3zM413 371h2v1h-2zM415 370h3v1h-3zM418 369h3v1h-3zM421 368h2v1h-2zM423 367h3v1h-3zM426 366h2v1h-2zM428 365h3v1h-3zM431 364h2v1h-2zM433 363h3v1h-3zM436 362h2v1h-2zM438 361h3v1h-3zM441 360h2v1h-2zM443 359h3v1h-3zM446 358h2v1h-2zM448 357h3v1h-3zM451 356h2v1h-2zM453 355h3v1h-3zM456 354h3v1h-3zM459 353h2v1h-2zM461 352h3v1h-3zM464 351h2v1h-2zM466 350h3v1h-3zM469 349h2v1h-2zM471 348h3v1h-3zM474 347h2v1h-2zM476 346h3v1h-3zM479 345h2v1h-2zM481 344h3v1h-3zM484 343h2v1h-2zM486 342h3v1h-3zM489 341h3v1h-3zM492 340h2v1h-2zM494 339h3v1h-3zM497 338h2v1h-2zM499 337h3v1h-3zM502 336h2v1h-2zM504 335h3v1h-3zM507 334h2v1h-2zM509 333h3v1h-3zM512 332h2v1h-2zM514 331h3v1h-3zM517 330h2v1h-2zM519 329h3v1h-3zM522 328h2v1h-2zM524 327h3v1h-3zM527 326h3v1h-3zM530 325h2v1h-2zM532 324h3v1h-3zM535 323h2v1h-2zM537 322h3v1h-3zM540 321h2v1h-2zM542 320h3v1h-3zM545 319h2v1h-2zM547 318h3v1h-3zM550 317h2v1h-2zM552 316h3v1h-3zM555 315h2v1h-2zM557 314h3v1h-3zM560 313h3v1h-3zM563 312h2v1h-2zM565 311h3v1h-3zM568 310h2v1h-2zM570 309h3v1h-3zM573 308h2v1h-2zM575 307h3v1h-3zM578 306h2v1h-2zM580 305h3v1h-3zM583 304h2v1h-2zM585 303h3v1h-3zM588 302h2v1h-2zM590 301h3v1h-3zM593 300h2v1h-2zM595 299h3v1h-3zM598 298h3v1h-3zM601 297h2v1h-2zM603 296h3v1h-3zM606 295h2v1h-2zM608 294h3v1h-3zM611 293h2v1h-2zM613 292h1v1h-1z"/>
<g shape-rendering="crispEdges">
<rect x="2" y="209" width="745" height="2" fill="#00ffff"/>
<rect x="2" y="239" width="745" height="2" fill="#00ffff"/>
<rect x="2" y="276" width="745" height="2" fill="#00ffff"/>
<rect x="2" y="304" width="745" height="2" fill="#00ffff"/>
<rect x="2" y="329" width="745" height="2" fill="#00ffff"/>
<rect x="2" y="360" width="745" height="2" fill="#00ffff"/>
<rect x="2" y="396" width="745" height="2" fill="#00ffff"/>
<rect x="2" y="429" width="745" height="2" fill="#00ffff"/>
<rect x="2" y="457" width="745" height="2" fill="#00ffff"/>
</g>
<g stroke="#00f0ff" stroke-width="1.8" fill="none" stroke-linejoin="miter">
<path d="M637.7 146.2 L645.4 153.9 L642.2 153.9 L642.2 167.1 L633.8 167.1 L633.8 153.9 L630.2 153.9 Z"/>
<path d="M637.7 220.7 L645.4 213 L642.2 213 L642.2 199.8 L633.8 199.8 L633.8 213 L630.2 213 Z"/>
</g>
<g shape-rendering="crispEdges" fill="#ffffff">
<rect x="2" y="2" width="746" height="1" fill="#fff"/>
<rect x="2" y="484" width="746" height="1" fill="#fff"/>
<rect x="2" y="2" width="1" height="483" fill="#fff"/>
<rect x="747" y="2" width="1" height="483" fill="#fff"/>
<rect x="2" y="486" width="746" height="1" fill="#fff"/>
<rect x="2" y="579" width="746" height="1" fill="#fff"/>
<rect x="2" y="486" width="1" height="94" fill="#fff"/>
<rect x="747" y="486" width="1" height="94" fill="#fff"/>
</g>
<text x="55.4" y="91" font-family="'Liberation Sans', sans-serif" font-size="17.2" fill="#fff" textLength="20.8" lengthAdjust="spacingAndGlyphs">(v)</text>
<text x="126.6" y="220" font-family="'Liberation Sans', sans-serif" font-size="17.2" fill="#ffff00" textLength="22" lengthAdjust="spacingAndGlyphs">(b)</text>
<text x="63.9" y="330.75" font-family="'Liberation Sans', sans-serif" font-size="17.2" fill="#ffff00" textLength="20.4" lengthAdjust="spacingAndGlyphs">(a)</text>
<text x="251.9" y="403" font-family="'Liberation Sans', sans-serif" font-size="17.2" fill="#ffff00" textLength="19.4" lengthAdjust="spacingAndGlyphs">(c)</text>
<text x="333.6" y="253" font-family="'Liberation Sans', sans-serif" font-size="17.2" fill="#fff" textLength="16.6" lengthAdjust="spacingAndGlyphs">(i)</text>
<text x="343.6" y="344.75" font-family="'Liberation Sans', sans-serif" font-size="17.2" fill="#fff" textLength="20.9" lengthAdjust="spacingAndGlyphs">(ii)</text>
<text x="509.4" y="176.75" font-family="'Liberation Sans', sans-serif" font-size="17.2" fill="#fff" textLength="24.9" lengthAdjust="spacingAndGlyphs">(iii)</text>
<text x="529.4" y="290" font-family="'Liberation Sans', sans-serif" font-size="17.2" fill="#fff" textLength="25.1" lengthAdjust="spacingAndGlyphs">(iv)</text>
<text x="635.4" y="104" font-family="'Liberation Sans', sans-serif" font-size="17.2" fill="#fff" textLength="20.8" lengthAdjust="spacingAndGlyphs">(v)</text>
<text y="13" font-family="'Liberation Sans', sans-serif" font-size="10.2" fill="#fff"><tspan x="6" textLength="49.5" lengthAdjust="spacingAndGlyphs">EURUSD.c,</tspan> <tspan x="59" textLength="14" lengthAdjust="spacingAndGlyphs">H1:</tspan> <tspan x="79.5" textLength="18.5" lengthAdjust="spacingAndGlyphs">Euro</tspan> <tspan x="102" textLength="9" lengthAdjust="spacingAndGlyphs">vs</tspan> <tspan x="115" textLength="11.5" lengthAdjust="spacingAndGlyphs">US</tspan> <tspan x="130.5" textLength="24.5" lengthAdjust="spacingAndGlyphs">Dollar</tspan> <tspan x="158" textLength="34" lengthAdjust="spacingAndGlyphs">Forward</tspan> <tspan x="196.5" textLength="30" lengthAdjust="spacingAndGlyphs">contract</tspan></text>
<text y="499" font-family="'Liberation Sans', sans-serif" font-size="9.9" fill="#fff"><tspan x="6" textLength="65" lengthAdjust="spacingAndGlyphs">MACD(12,26,9)</tspan> <tspan x="75" textLength="36.2" lengthAdjust="spacingAndGlyphs">0.000721</tspan> <tspan x="116.2" textLength="36.2" lengthAdjust="spacingAndGlyphs">0.000583</tspan></text>
<rect x="2" y="5" width="745" height="2" fill="#ff0000" shape-rendering="crispEdges"/>
<g shape-rendering="crispEdges">
<rect x="748" y="5" width="4" height="1" fill="#fff"/>
<rect x="748" y="37" width="4" height="1" fill="#fff"/>
<rect x="748" y="69" width="4" height="1" fill="#fff"/>
<rect x="748" y="101" width="4" height="1" fill="#fff"/>
<rect x="748" y="133" width="4" height="1" fill="#fff"/>
<rect x="748" y="165" width="4" height="1" fill="#fff"/>
<rect x="748" y="197" width="4" height="1" fill="#fff"/>
<rect x="748" y="229" width="4" height="1" fill="#fff"/>
<rect x="748" y="261" width="4" height="1" fill="#fff"/>
<rect x="748" y="293" width="4" height="1" fill="#fff"/>
<rect x="748" y="324" width="4" height="1" fill="#fff"/>
<rect x="748" y="356" width="4" height="1" fill="#fff"/>
<rect x="748" y="388" width="4" height="1" fill="#fff"/>
<rect x="748" y="420" width="4" height="1" fill="#fff"/>
<rect x="748" y="452" width="4" height="1" fill="#fff"/>
</g>
<text x="753.5" y="40.6" font-family="'Liberation Sans', sans-serif" font-size="9.5" fill="#fff" stroke="#fff" stroke-width="0.25" textLength="31.5" lengthAdjust="spacingAndGlyphs">1.19570</text>
<text x="753.5" y="72.6" font-family="'Liberation Sans', sans-serif" font-size="9.5" fill="#fff" stroke="#fff" stroke-width="0.25" textLength="31.5" lengthAdjust="spacingAndGlyphs">1.19380</text>
<text x="753.5" y="104.6" font-family="'Liberation Sans', sans-serif" font-size="9.5" fill="#fff" stroke="#fff" stroke-width="0.25" textLength="31.5" lengthAdjust="spacingAndGlyphs">1.19190</text>
<text x="753.5" y="136.6" font-family="'Liberation Sans', sans-serif" font-size="9.5" fill="#fff" stroke="#fff" stroke-width="0.25" textLength="31.5" lengthAdjust="spacingAndGlyphs">1.19000</text>
<text x="753.5" y="168.6" font-family="'Liberation Sans', sans-serif" font-size="9.5" fill="#fff" stroke="#fff" stroke-width="0.25" textLength="31.5" lengthAdjust="spacingAndGlyphs">1.18810</text>
<text x="753.5" y="200.6" font-family="'Liberation Sans', sans-serif" font-size="9.5" fill="#fff" stroke="#fff" stroke-width="0.25" textLength="31.5" lengthAdjust="spacingAndGlyphs">1.18620</text>
<text x="753.5" y="232.6" font-family="'Liberation Sans', sans-serif" font-size="9.5" fill="#fff" stroke="#fff" stroke-width="0.25" textLength="31.5" lengthAdjust="spacingAndGlyphs">1.18430</text>
<text x="753.5" y="264.6" font-family="'Liberation Sans', sans-serif" font-size="9.5" fill="#fff" stroke="#fff" stroke-width="0.25" textLength="31.5" lengthAdjust="spacingAndGlyphs">1.18240</text>
<text x="753.5" y="296.6" font-family="'Liberation Sans', sans-serif" font-size="9.5" fill="#fff" stroke="#fff" stroke-width="0.25" textLength="31.5" lengthAdjust="spacingAndGlyphs">1.18050</text>
<text x="753.5" y="327.6" font-family="'Liberation Sans', sans-serif" font-size="9.5" fill="#fff" stroke="#fff" stroke-width="0.25" textLength="31.5" lengthAdjust="spacingAndGlyphs">1.17860</text>
<text x="753.5" y="359.6" font-family="'Liberation Sans', sans-serif" font-size="9.5" fill="#fff" stroke="#fff" stroke-width="0.25" textLength="31.5" lengthAdjust="spacingAndGlyphs">1.17670</text>
<text x="753.5" y="391.6" font-family="'Liberation Sans', sans-serif" font-size="9.5" fill="#fff" stroke="#fff" stroke-width="0.25" textLength="31.5" lengthAdjust="spacingAndGlyphs">1.17480</text>
<text x="753.5" y="423.6" font-family="'Liberation Sans', sans-serif" font-size="9.5" fill="#fff" stroke="#fff" stroke-width="0.25" textLength="31.5" lengthAdjust="spacingAndGlyphs">1.17290</text>
<text x="753.5" y="455.6" font-family="'Liberation Sans', sans-serif" font-size="9.5" fill="#fff" stroke="#fff" stroke-width="0.25" textLength="31.5" lengthAdjust="spacingAndGlyphs">1.17100</text>
<rect x="750" y="1" width="39" height="11" fill="#ff0000" shape-rendering="crispEdges"/>
<text x="753.8" y="10" font-family="'Liberation Sans', sans-serif" font-size="9.8" fill="#000" stroke="#000" stroke-width="0.3" textLength="31" lengthAdjust="spacingAndGlyphs">1.19756</text>
<rect x="750" y="37" width="39" height="11" fill="#ff0000" shape-rendering="crispEdges"/>
<text x="753.8" y="46" font-family="'Liberation Sans', sans-serif" font-size="9.8" fill="#000" stroke="#000" stroke-width="0.3" textLength="31" lengthAdjust="spacingAndGlyphs">1.19544</text>
<rect x="750" y="74" width="39" height="11" fill="#ff0000" shape-rendering="crispEdges"/>
<text x="753.8" y="83" font-family="'Liberation Sans', sans-serif" font-size="9.8" fill="#000" stroke="#000" stroke-width="0.3" textLength="31" lengthAdjust="spacingAndGlyphs">1.19324</text>
<rect x="750" y="108" width="39" height="11" fill="#ff0000" shape-rendering="crispEdges"/>
<text x="753.8" y="117" font-family="'Liberation Sans', sans-serif" font-size="9.8" fill="#000" stroke="#000" stroke-width="0.3" textLength="31" lengthAdjust="spacingAndGlyphs">1.19120</text>
<rect x="750" y="137" width="39" height="11" fill="#ff0000" shape-rendering="crispEdges"/>
<text x="753.8" y="146" font-family="'Liberation Sans', sans-serif" font-size="9.8" fill="#000" stroke="#000" stroke-width="0.3" textLength="31" lengthAdjust="spacingAndGlyphs">1.18945</text>
<rect x="750" y="176" width="39" height="11" fill="#ff0000" shape-rendering="crispEdges"/>
<text x="753.8" y="185" font-family="'Liberation Sans', sans-serif" font-size="9.8" fill="#000" stroke="#000" stroke-width="0.3" textLength="31" lengthAdjust="spacingAndGlyphs">1.18712</text>
<rect x="750" y="196" width="39" height="11" fill="#778899" shape-rendering="crispEdges"/>
<text x="753.8" y="205" font-family="'Liberation Sans', sans-serif" font-size="9.8" fill="#000" stroke="#000" stroke-width="0.3" textLength="31" lengthAdjust="spacingAndGlyphs">1.18598</text>
<rect x="750" y="205" width="39" height="11" fill="#00ffff" shape-rendering="crispEdges"/>
<text x="753.8" y="214" font-family="'Liberation Sans', sans-serif" font-size="9.8" fill="#000" stroke="#000" stroke-width="0.3" textLength="31" lengthAdjust="spacingAndGlyphs">1.18543</text>
<rect x="750" y="235" width="39" height="11" fill="#00ffff" shape-rendering="crispEdges"/>
<text x="753.8" y="244" font-family="'Liberation Sans', sans-serif" font-size="9.8" fill="#000" stroke="#000" stroke-width="0.3" textLength="31" lengthAdjust="spacingAndGlyphs">1.18364</text>
<rect x="750" y="272" width="39" height="11" fill="#00ffff" shape-rendering="crispEdges"/>
<text x="753.8" y="281" font-family="'Liberation Sans', sans-serif" font-size="9.8" fill="#000" stroke="#000" stroke-width="0.3" textLength="31" lengthAdjust="spacingAndGlyphs">1.18144</text>
<rect x="750" y="300" width="39" height="11" fill="#00ffff" shape-rendering="crispEdges"/>
<text x="753.8" y="309" font-family="'Liberation Sans', sans-serif" font-size="9.8" fill="#000" stroke="#000" stroke-width="0.3" textLength="31" lengthAdjust="spacingAndGlyphs">1.17976</text>
<rect x="750" y="325" width="39" height="11" fill="#00ffff" shape-rendering="crispEdges"/>
<text x="753.8" y="334" font-family="'Liberation Sans', sans-serif" font-size="9.8" fill="#000" stroke="#000" stroke-width="0.3" textLength="31" lengthAdjust="spacingAndGlyphs">1.17826</text>
<rect x="750" y="356" width="39" height="11" fill="#00ffff" shape-rendering="crispEdges"/>
<text x="753.8" y="365" font-family="'Liberation Sans', sans-serif" font-size="9.8" fill="#000" stroke="#000" stroke-width="0.3" textLength="31" lengthAdjust="spacingAndGlyphs">1.17643</text>
<rect x="750" y="392" width="39" height="11" fill="#00ffff" shape-rendering="crispEdges"/>
<text x="753.8" y="401" font-family="'Liberation Sans', sans-serif" font-size="9.8" fill="#000" stroke="#000" stroke-width="0.3" textLength="31" lengthAdjust="spacingAndGlyphs">1.17429</text>
<rect x="750" y="425" width="39" height="11" fill="#00ffff" shape-rendering="crispEdges"/>
<text x="753.8" y="434" font-family="'Liberation Sans', sans-serif" font-size="9.8" fill="#000" stroke="#000" stroke-width="0.3" textLength="31" lengthAdjust="spacingAndGlyphs">1.17234</text>
<rect x="750" y="453" width="39" height="11" fill="#00ffff" shape-rendering="crispEdges"/>
<text x="753.8" y="462" font-family="'Liberation Sans', sans-serif" font-size="9.8" fill="#000" stroke="#000" stroke-width="0.3" textLength="31" lengthAdjust="spacingAndGlyphs">1.17065</text>
<g shape-rendering="crispEdges">
<rect x="748" y="487" width="4" height="1" fill="#fff"/>
<rect x="748" y="538" width="4" height="1" fill="#fff"/>
<rect x="748" y="578" width="4" height="1" fill="#fff"/>
</g>
<text x="753" y="495.3" font-family="'Liberation Sans', sans-serif" font-size="9.5" fill="#fff" textLength="36.8" lengthAdjust="spacingAndGlyphs">0.002645</text>
<text x="753" y="541.6" font-family="'Liberation Sans', sans-serif" font-size="9.5" fill="#fff" textLength="36.8" lengthAdjust="spacingAndGlyphs">0.000000</text>
<text x="753" y="577.6" font-family="'Liberation Sans', sans-serif" font-size="9.5" fill="#fff" textLength="40" lengthAdjust="spacingAndGlyphs">-0.002061</text>
<g shape-rendering="crispEdges">
<rect x="2" y="579" width="1" height="5" fill="#fff"/>
<rect x="66" y="579" width="1" height="5" fill="#fff"/>
<rect x="130" y="579" width="1" height="5" fill="#fff"/>
<rect x="194" y="579" width="1" height="5" fill="#fff"/>
<rect x="258" y="579" width="1" height="5" fill="#fff"/>
<rect x="322" y="579" width="1" height="5" fill="#fff"/>
<rect x="386" y="579" width="1" height="5" fill="#fff"/>
<rect x="450" y="579" width="1" height="5" fill="#fff"/>
<rect x="514" y="579" width="1" height="5" fill="#fff"/>
<rect x="578" y="579" width="1" height="5" fill="#fff"/>
</g>
<text x="2.5" y="591.5" font-family="'Liberation Sans', sans-serif" font-size="9.6" fill="#fff" textLength="48" lengthAdjust="spacingAndGlyphs">8 Nov 2020</text>
<text x="66.5" y="591.5" font-family="'Liberation Sans', sans-serif" font-size="9.6" fill="#fff" textLength="51" lengthAdjust="spacingAndGlyphs">9 Nov 14:00</text>
<text x="130.5" y="591.5" font-family="'Liberation Sans', sans-serif" font-size="9.6" fill="#fff" textLength="55.5" lengthAdjust="spacingAndGlyphs">10 Nov 06:00</text>
<text x="194.5" y="591.5" font-family="'Liberation Sans', sans-serif" font-size="9.6" fill="#fff" textLength="55.5" lengthAdjust="spacingAndGlyphs">10 Nov 22:00</text>
<text x="258.5" y="591.5" font-family="'Liberation Sans', sans-serif" font-size="9.6" fill="#fff" textLength="55.5" lengthAdjust="spacingAndGlyphs">11 Nov 14:00</text>
<text x="322.5" y="591.5" font-family="'Liberation Sans', sans-serif" font-size="9.6" fill="#fff" textLength="55.5" lengthAdjust="spacingAndGlyphs">12 Nov 06:00</text>
<text x="386.5" y="591.5" font-family="'Liberation Sans', sans-serif" font-size="9.6" fill="#fff" textLength="55.5" lengthAdjust="spacingAndGlyphs">12 Nov 22:00</text>
<text x="450.5" y="591.5" font-family="'Liberation Sans', sans-serif" font-size="9.6" fill="#fff" textLength="55.5" lengthAdjust="spacingAndGlyphs">13 Nov 14:00</text>
<text x="514.5" y="591.5" font-family="'Liberation Sans', sans-serif" font-size="9.6" fill="#fff" textLength="55.5" lengthAdjust="spacingAndGlyphs">16 Nov 06:00</text>
<text x="578.5" y="591.5" font-family="'Liberation Sans', sans-serif" font-size="9.6" fill="#fff" textLength="55.5" lengthAdjust="spacingAndGlyphs">16 Nov 22:00</text>
</svg>
</body></html>
